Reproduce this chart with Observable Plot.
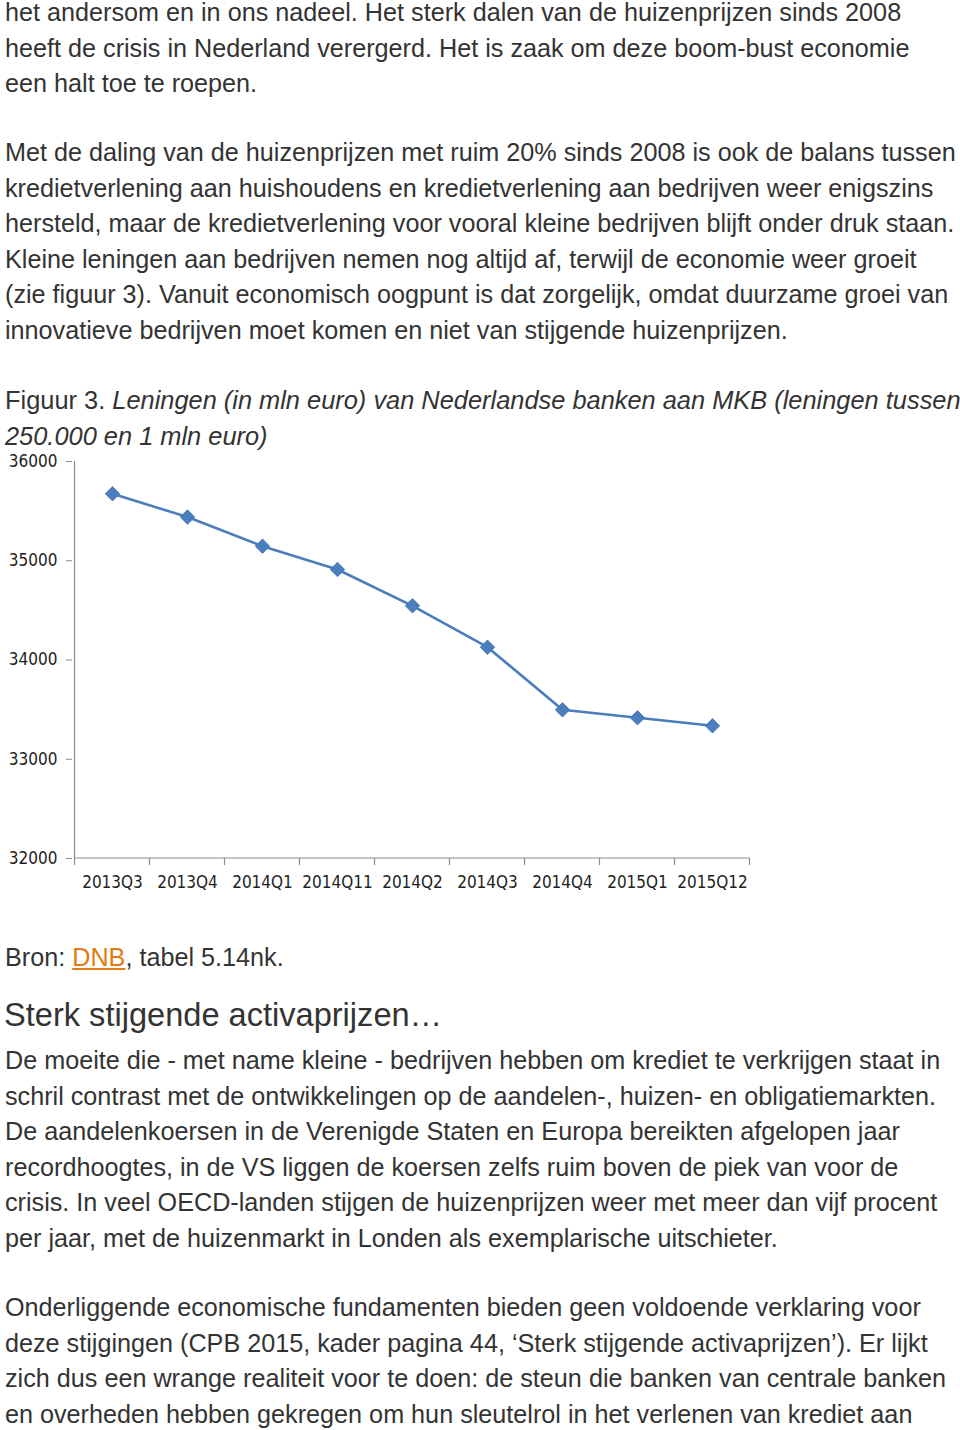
<!DOCTYPE html>
<html>
<head>
<meta charset="utf-8">
<script src="https://cdn.jsdelivr.net/npm/d3@7"></script>
<script src="https://cdn.jsdelivr.net/npm/@observablehq/plot@0.6"></script>
<style>
  html, body { margin: 0; padding: 0; background: #fff; }
  body { width: 960px; height: 1430px; position: relative; overflow: hidden;
         font-family: "Liberation Sans", Arial, sans-serif; color: #333; }
  .blk { position: absolute; left: 5px; white-space: nowrap; }
  .blk div { height: 35.5px; line-height: 35.5px; font-size: 25.2px; }
  .cap div { font-size: 25.4px; }
  .cap i { font-style: italic; }
  #chart { position: absolute; left: 0; top: 450px; }
  h2 { position: absolute; left: 4px; top: 993px; margin: 0; font-weight: normal;
       font-size: 32.6px; line-height: 44px; white-space: nowrap; }
  a { color: #e17b14; text-decoration: underline; }
</style>
</head>
<body>
<div class="blk" style="top:-5px">
  <div>het andersom en in ons nadeel. Het sterk dalen van de huizenprijzen sinds 2008</div>
  <div>heeft de crisis in Nederland verergerd. Het is zaak om deze boom-bust economie</div>
  <div>een halt toe te roepen.</div>
</div>
<div class="blk" style="top:135px">
  <div>Met de daling van de huizenprijzen met ruim 20% sinds 2008 is ook de balans tussen</div>
  <div>kredietverlening aan huishoudens en kredietverlening aan bedrijven weer enigszins</div>
  <div>hersteld, maar de kredietverlening voor vooral kleine bedrijven blijft onder druk staan.</div>
  <div>Kleine leningen aan bedrijven nemen nog altijd af, terwijl de economie weer groeit</div>
  <div>(zie figuur 3). Vanuit economisch oogpunt is dat zorgelijk, omdat duurzame groei van</div>
  <div>innovatieve bedrijven moet komen en niet van stijgende huizenprijzen.</div>
</div>
<div class="blk cap" style="top:383px">
  <div>Figuur 3. <i>Leningen (in mln euro) van Nederlandse banken aan MKB (leningen tussen</i></div>
  <div><i>250.000 en 1 mln euro)</i></div>
</div>
<div id="chart"></div>
<div class="blk" style="top:940px">
  <div>Bron: <a>DNB</a>, tabel 5.14nk.</div>
</div>
<h2>Sterk stijgende activaprijzen…</h2>
<div class="blk" style="top:1043px">
  <div>De moeite die - met name kleine - bedrijven hebben om krediet te verkrijgen staat in</div>
  <div>schril contrast met de ontwikkelingen op de aandelen-, huizen- en obligatiemarkten.</div>
  <div>De aandelenkoersen in de Verenigde Staten en Europa bereikten afgelopen jaar</div>
  <div>recordhoogtes, in de VS liggen de koersen zelfs ruim boven de piek van voor de</div>
  <div>crisis. In veel OECD-landen stijgen de huizenprijzen weer met meer dan vijf procent</div>
  <div>per jaar, met de huizenmarkt in Londen als exemplarische uitschieter.</div>
</div>
<div class="blk" style="top:1290px">
  <div>Onderliggende economische fundamenten bieden geen voldoende verklaring voor</div>
  <div>deze stijgingen (CPB 2015, kader pagina 44, ‘Sterk stijgende activaprijzen’). Er lijkt</div>
  <div>zich dus een wrange realiteit voor te doen: de steun die banken van centrale banken</div>
  <div>en overheden hebben gekregen om hun sleutelrol in het verlenen van krediet aan</div>
</div>
<script>
const periods = ["2013Q3","2013Q4","2014Q1","2014Q11","2014Q2","2014Q3","2014Q4","2015Q1","2015Q12"];
const loans = [35675, 35440, 35147, 34912, 34546, 34129, 33498, 33418, 33337];
const yTicks = [32000, 33000, 34000, 35000, 36000];

const data = periods.map((p, i) => ({period: p, value: loans[i]}));
const axisColor = "#8c8c8c";
const lineColor = "#4a7dba";
const tickFont = "'DejaVu Sans Condensed', 'Liberation Sans Narrow', sans-serif";

// axis lines and tick marks at band boundaries, built from the scales
function categoryAxis(index, scales) {
  const x = scales.x, y = scales.y;
  const step = x(periods[1]) - x(periods[0]);
  const y0 = y(32000), yTop = y(36000);
  const edges = periods.map(p => x(p) - step / 2).concat([x(periods[periods.length - 1]) + step / 2]);
  const g = d3.create("svg:g").attr("stroke", axisColor).attr("stroke-width", 1.2).attr("fill", "none");
  g.append("line").attr("x1", edges[0]).attr("x2", edges[0]).attr("y1", yTop).attr("y2", y0);
  g.append("line").attr("x1", edges[0]).attr("x2", edges[edges.length - 1]).attr("y1", y0).attr("y2", y0);
  for (const e of edges) {
    g.append("line").attr("x1", e).attr("x2", e).attr("y1", y0).attr("y2", y0 + 7);
  }
  return g.node();
}

const chart = Plot.plot({
  width: 770,
  height: 450,
  marginLeft: 72,
  marginRight: 19,
  marginTop: 11,
  marginBottom: 42,
  style: {fontFamily: tickFont, fontSize: "17px", color: "#222", background: "transparent"},
  x: {type: "point", domain: periods, padding: 0.5, label: null, tickSize: 0, tickPadding: 17},
  y: {domain: [32000, 36000], ticks: yTicks, tickFormat: d => String(d), label: null, tickSize: 6, tickPadding: 9},
  marks: [
    Plot.dot([periods[0]], {x: d => d, y: () => 32000, render: categoryAxis}),
    Plot.line(data, {x: "period", y: "value", stroke: lineColor, strokeWidth: 2.6}),
    Plot.dot(data, {x: "period", y: "value", symbol: "diamond2", r: 6.5, fill: "#4a7ebf", stroke: "#3f6fad", strokeWidth: 0.8})
  ]
});
d3.select(chart).selectAll("[aria-label='y-axis tick'] path, [aria-label='y-axis tick'] line").attr("stroke", axisColor);
document.getElementById("chart").appendChild(chart);
</script>
</body>
</html>
